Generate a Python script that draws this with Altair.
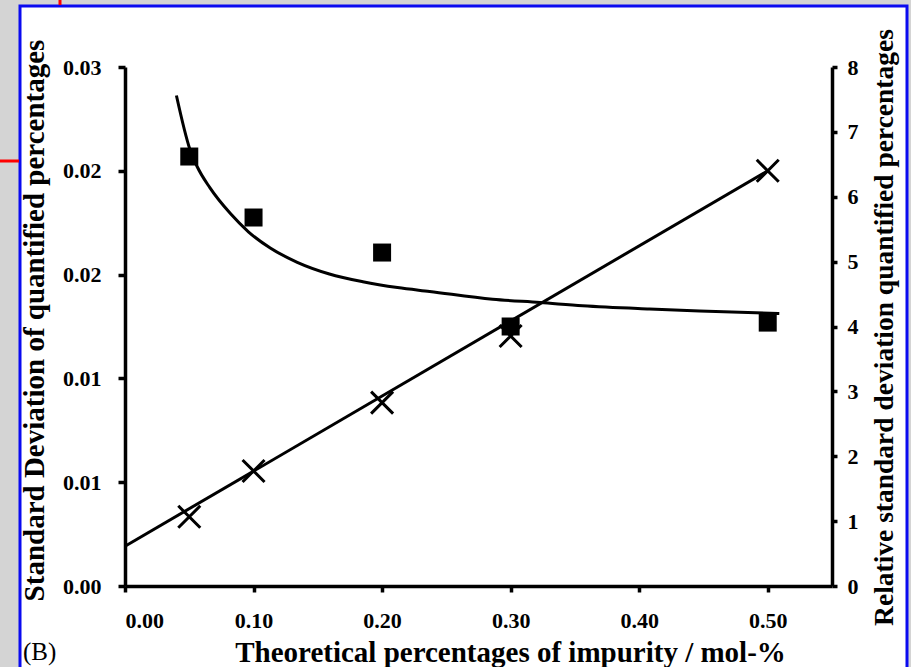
import altair as alt
import pandas as pd

# ---- data ----
conc = [0.05, 0.10, 0.20, 0.30, 0.50]
sd_vals = [0.0040, 0.00665, 0.0106, 0.01445, 0.0240]
rsd_vals = [6.62, 5.68, 5.14, 4.00, 4.06]

fit_x = [0.0, 0.50]
fit_sd = [0.0023, 0.0240]

curve_x = [0.040, 0.0505, 0.056, 0.066, 0.082, 0.096, 0.113, 0.134, 0.159,
           0.185, 0.212, 0.237, 0.286, 0.323, 0.356, 0.408, 0.447, 0.509]
curve_rsd = [7.56, 6.73, 6.47, 6.14, 5.74, 5.46, 5.21, 4.99, 4.81,
             4.69, 4.60, 4.54, 4.42, 4.37, 4.32, 4.27, 4.24, 4.20]

x_ticks = [0.0, 0.1, 0.2, 0.3, 0.4, 0.5]
left_ticks = [0.0, 0.006, 0.012, 0.018, 0.024, 0.03]
right_ticks = [0, 1, 2, 3, 4, 5, 6, 7, 8]

FONT = "Liberation Serif"

pts = pd.DataFrame({"x": conc, "sd": sd_vals, "rsd": rsd_vals})
fit = pd.DataFrame({"x": fit_x, "sd": fit_sd})
curve = pd.DataFrame({"x": curve_x, "rsd": curve_rsd})
one = pd.DataFrame({"k": [0]})

xscale = alt.Scale(domain=[0, 0.55], nice=False)
xaxis = alt.Axis(values=x_ticks, format=".2f", title="Theoretical percentages of impurity / mol-%",
                 tickSize=6, labelPadding=18, titleX=385, titleY=75, titleFontSize=29,
                 titleBaseline="alphabetic", titleAnchor="start", titleAlign="center", zindex=1)

lscale = alt.Scale(domain=[0, 0.03], nice=False)
laxis = alt.Axis(values=left_ticks, format=".2f", orient="left",
                 title="Standard Deviation of quantified percentages",
                 tickSize=7, labelPadding=17, titleX=-91, titleY=253, titleFontSize=29,
                 titleAngle=270, titleBaseline="middle", titleAlign="center", zindex=1)

rscale = alt.Scale(domain=[0, 8], nice=False)
raxis = alt.Axis(values=right_ticks, format="d", orient="right",
                 title="Relative standard deviation quantified percentages",
                 tickSize=5, labelPadding=10, titleX=52, titleY=260, titleFontSize=27.5,
                 titleAngle=270, titleBaseline="middle", titleAlign="center", zindex=1)

# decoration: white slide panel with blue frame, red guide marks, panel tag
frame = alt.Chart(one).mark_rect(fill="white", stroke="#0a0af0", strokeWidth=3).encode(
    x=alt.value(-105), x2=alt.value(782), y=alt.value(-61), y2=alt.value(640))
red_v = alt.Chart(one).mark_rule(color="red", strokeWidth=3).encode(
    x=alt.value(-65), y=alt.value(-67), y2=alt.value(-62))
red_h = alt.Chart(one).mark_rule(color="red", strokeWidth=3).encode(
    x=alt.value(-125), x2=alt.value(-106), y=alt.value(94))
tag = alt.Chart(one).mark_text(text="(B)", font=FONT, fontSize=25, align="left",
                               baseline="alphabetic", color="black").encode(
    x=alt.value(-102), y=alt.value(593))

fit_line = alt.Chart(fit).mark_line(color="black", strokeWidth=3).encode(
    x=alt.X("x:Q", scale=xscale, axis=xaxis),
    y=alt.Y("sd:Q", scale=lscale, axis=laxis))
crosses = alt.Chart(pts).mark_point(shape="M-1,-1L1,1M1,-1L-1,1", size=484, filled=False,
                                    color="black", strokeWidth=3, opacity=1).encode(
    x=alt.X("x:Q", scale=xscale, axis=xaxis),
    y=alt.Y("sd:Q", scale=lscale, axis=laxis))
left = alt.layer(fit_line, crosses)

curve_line = alt.Chart(curve).mark_line(color="black", strokeWidth=3, interpolate="monotone").encode(
    x=alt.X("x:Q", scale=xscale, axis=xaxis),
    y=alt.Y("rsd:Q", scale=rscale, axis=raxis))
squares = alt.Chart(pts).mark_point(shape="square", size=324, filled=True,
                                    color="black", opacity=1).encode(
    x=alt.X("x:Q", scale=xscale, axis=xaxis),
    y=alt.Y("rsd:Q", scale=rscale, axis=raxis))
right = alt.layer(curve_line, squares)

deco = alt.layer(frame, red_v, red_h, tag)

chart = alt.layer(deco, left, right).resolve_scale(y="independent").properties(
    width=707, height=519,
    autosize=alt.AutoSizeParams(type="none"),
    padding={"left": 125, "top": 67, "right": 79, "bottom": 81},
    background="#d4d4d4",
).configure_view(stroke=None).configure_axis(
    grid=False, domainColor="black", domainWidth=3.5, tickColor="black", tickWidth=3.5,
    labelFont=FONT, labelFontSize=22, labelFontWeight="bold", labelColor="black",
    titleFont=FONT, titleFontSize=28, titleFontWeight="bold", titleColor="black",
)

chart.save("out.html", embed_options={"renderer": "svg", "actions": False})
